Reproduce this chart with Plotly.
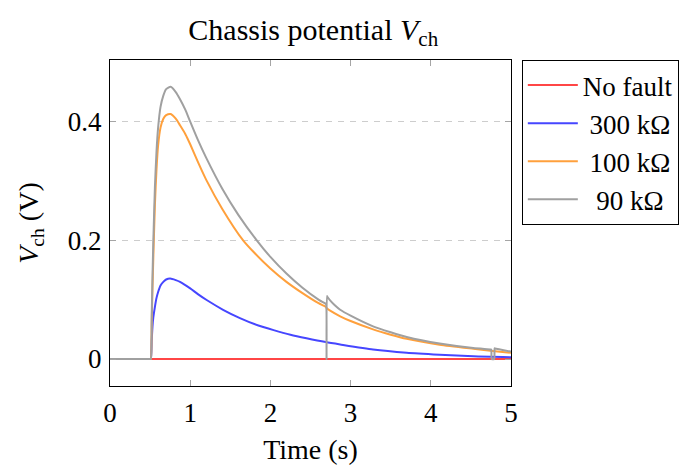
import plotly.graph_objects as go

# ---- data ----
series_names = ["No fault", "300 kΩ", "100 kΩ", "90 kΩ"]

t_nofault = [0, 5]
v_nofault = [0, 0]

t_300 = [0, 0.5, 0.505, 0.51, 0.52, 0.53, 0.54, 0.56, 0.58, 0.60, 0.63, 0.665, 0.70, 0.75, 0.82,
         0.873, 1.0, 1.1, 1.21, 1.41, 1.62, 1.85, 2.04, 2.25, 2.45, 2.69, 2.87, 3.28, 3.7, 4.11,
         4.53, 5.0]
v_300 = [0, 0, 0, 0, 0.03, 0.055, 0.07, 0.088, 0.103, 0.113, 0.124, 0.130, 0.134, 0.1356, 0.133,
         0.130, 0.119, 0.109, 0.099, 0.083, 0.069, 0.0565, 0.0487, 0.041, 0.035, 0.0285, 0.0245,
         0.016, 0.0106, 0.0073, 0.0045, 0.003]

t_100 = [0, 0.5, 0.505, 0.51, 0.52, 0.53, 0.54, 0.56, 0.58, 0.60, 0.63, 0.665, 0.70, 0.757, 0.82,
         0.873, 0.94, 1.0, 1.1, 1.2, 1.4, 1.66, 1.8, 2.0, 2.2, 2.4, 2.6, 2.69, 2.70, 2.75, 2.87,
         3.0, 3.28, 3.5, 3.7, 4.11, 4.53, 4.8, 5.0]
v_100 = [0, 0, 0, 0, 0.06, 0.12, 0.17, 0.26, 0.32, 0.36, 0.39, 0.405, 0.411, 0.413, 0.405,
         0.394, 0.379, 0.362, 0.331, 0.302, 0.253, 0.20, 0.179, 0.1525, 0.130, 0.111, 0.094, 0.088,
         0.086, 0.081, 0.072, 0.064, 0.050, 0.041, 0.034, 0.024, 0.0172, 0.0132, 0.0105]

t_90 = [0, 0.5, 0.505, 0.51, 0.52, 0.53, 0.54, 0.56, 0.58, 0.60, 0.63, 0.665, 0.70, 0.757, 0.82,
        0.873, 0.94, 1.0, 1.1, 1.2, 1.4, 1.6, 1.83, 2.0, 2.2, 2.4, 2.6, 2.69, 2.695, 2.70, 2.705,
        2.71, 2.75, 2.8, 2.87, 3.0, 3.28, 3.5, 3.7, 4.11, 4.53, 4.75, 4.755, 4.76, 4.79, 4.795,
        4.80, 5.0]
v_90 = [0, 0, 0, 0, 0.07, 0.14, 0.197, 0.29, 0.35, 0.39, 0.425, 0.444, 0.455, 0.459, 0.450,
        0.438, 0.420, 0.40, 0.368, 0.339, 0.287, 0.243, 0.20, 0.172, 0.144, 0.120, 0.100, 0.093,
        0.0925, 0, 0.106, 0.105, 0.098, 0.091, 0.083, 0.073, 0.055, 0.045, 0.037, 0.026, 0.0185,
        0.0162, 0.016, 0, 0, 0.018, 0.0178, 0.0125]

x_ticks = [0, 1, 2, 3, 4, 5]
y_ticks = [0, 0.2, 0.4]
y_tick_text = ["0", "0.2", "0.4"]

colors = ["rgb(255,70,70)", "rgb(70,70,255)", "rgb(255,160,60)", "rgb(160,160,160)"]
legend_labels = ["No fault", "\u00a0300 kΩ", "\u00a0100 kΩ", "\u00a0\u00a090 kΩ"]

FONT = "Liberation Serif"

fig = go.Figure()
data = [(t_nofault, v_nofault), (t_300, v_300), (t_100, v_100), (t_90, v_90)]
for i, (t, v) in enumerate(data):
    fig.add_trace(go.Scatter(
        x=t, y=v, mode="lines", name=legend_labels[i], legendgroup=series_names[i],
        line=dict(color=colors[i], width=2, shape="spline" if i > 0 else "linear", smoothing=0.6),
    ))

axis_common = dict(
    showline=True, linecolor="black", linewidth=1.3, mirror="ticks",
    ticks="inside", ticklen=6, tickwidth=1.3, tickcolor="rgb(165,165,165)",
    tickfont=dict(family=FONT, size=27, color="black"),
    zeroline=False,
)

fig.update_xaxes(
    range=[0, 5], tickvals=x_ticks, ticktext=[str(v) for v in x_ticks],
    showgrid=False, ticklabelstandoff=2,
    title=dict(text="Time (s)", font=dict(family=FONT, size=28, color="black"), standoff=12),
    **axis_common,
)
fig.update_yaxes(
    range=[-0.0455, 0.504], tickvals=y_ticks, ticktext=y_tick_text,
    showgrid=True, gridcolor="rgb(205,205,205)", gridwidth=1.3, griddash="6px,6px",
    ticklabelstandoff=2,
    title=dict(text="<i>V</i><sub>ch</sub> (V)", font=dict(family=FONT, size=28, color="black"), standoff=20),
    **axis_common,
)

fig.update_layout(
    width=693, height=471,
    margin=dict(l=110, r=182, t=60, b=85),
    paper_bgcolor="white", plot_bgcolor="white",
    title=dict(text="Chassis potential <i>V</i><sub>ch</sub>", x=0.452, xanchor="center",
               y=0.937, yanchor="middle",
               font=dict(family=FONT, size=30, color="black")),
    legend=dict(
        x=1.027, xanchor="left", y=1.0, yanchor="top",
        bordercolor="black", borderwidth=1, bgcolor="white",
        font=dict(family=FONT, size=27, color="black"),
        tracegroupgap=0, traceorder="normal", itemwidth=50,
    ),
    showlegend=True,
)

fig.write_html("out.html")
